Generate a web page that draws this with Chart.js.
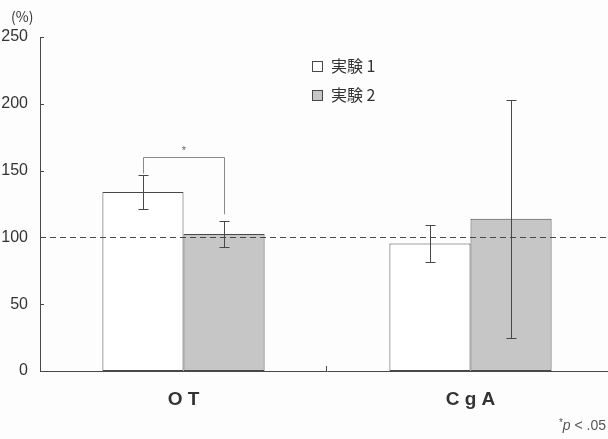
<!DOCTYPE html>
<html>
<head>
<meta charset="utf-8">
<script src="https://cdn.jsdelivr.net/npm/chart.js@4.4.0/dist/chart.umd.min.js"></script>
<style>
  html, body { margin: 0; padding: 0; background: #fdfdfd; overflow: hidden; }
  #wrap { width: 614px; height: 439px; }
</style>
</head>
<body>
<div id="wrap"><canvas id="chartCanvas" width="614" height="439"></canvas></div>
<script>
// データ
const categories = ['O T', 'C g A'];
const seriesNames = ['実験1', '実験2'];
const exp1 = [134, 95.5];
const exp2 = [102.5, 114];
const exp1Err = [13, 13.7];
const exp2Err = [9.5, 89];
const yTicks = [0, 50, 100, 150, 200, 250];
const baseline = 100;
// 有意差ブラケット (OT: 実験1 vs 実験2)
const sigTop = 160;

const ink = '#484848';
const textInk = '#333333';

const extras = {
    id: 'extras',
    afterDatasetsDraw(chart) {
        const ctx = chart.ctx;
        const x = chart.scales.x;
        const y = chart.scales.y;
        const area = chart.chartArea;
        ctx.save();
        ctx.strokeStyle = ink;
        ctx.lineWidth = 1;

        // エラーバー
        const errs = [exp1Err, exp2Err];
        chart.data.datasets.forEach((ds, di) => {
            const meta = chart.getDatasetMeta(di);
            meta.data.forEach((bar, i) => {
                const v = ds.data[i];
                const e = errs[di][i];
                const cx = Math.round(bar.x) + 0.5;
                const yt = Math.round(y.getPixelForValue(v + e)) + 0.5;
                const yb = Math.round(y.getPixelForValue(v - e)) + 0.5;
                ctx.beginPath();
                ctx.moveTo(cx, yt); ctx.lineTo(cx, yb);
                ctx.moveTo(cx - 5, yt); ctx.lineTo(cx + 5, yt);
                ctx.moveTo(cx - 5, yb); ctx.lineTo(cx + 5, yb);
                ctx.stroke();
            });
        });

        // 基準線 100%
        const by = Math.round(y.getPixelForValue(baseline)) + 0.5;
        ctx.setLineDash([6, 4]);
        ctx.beginPath();
        ctx.moveTo(area.left, by);
        ctx.lineTo(area.right, by);
        ctx.stroke();
        ctx.setLineDash([]);

        // 目盛り (内向き)
        ctx.beginPath();
        yTicks.slice(1).forEach(t => {
            const ty = Math.round(y.getPixelForValue(t)) + 0.5;
            ctx.moveTo(area.left, ty);
            ctx.lineTo(area.left + 4, ty);
        });
        const midX = Math.round((x.getPixelForValue(0) + x.getPixelForValue(1)) / 2) - 0.5;
        ctx.moveTo(midX, area.bottom);
        ctx.lineTo(midX, area.bottom - 5);
        ctx.stroke();

        // 有意差ブラケット
        const b1 = chart.getDatasetMeta(0).data[0];
        const b2 = chart.getDatasetMeta(1).data[0];
        const lx = Math.round(b1.x) + 0.5;
        const rx = Math.round(b2.x) + 0.5;
        const sy = Math.round(y.getPixelForValue(sigTop)) + 0.5;
        ctx.strokeStyle = '#8a8a8a';
        ctx.beginPath();
        ctx.moveTo(lx, y.getPixelForValue(exp1[0] + exp1Err[0]) - 1);
        ctx.lineTo(lx, sy);
        ctx.lineTo(rx, sy);
        ctx.lineTo(rx, y.getPixelForValue(exp2[0] + exp2Err[0]) - 7);
        ctx.stroke();
        ctx.fillStyle = '#666';
        ctx.font = '11px "Liberation Sans", sans-serif';
        ctx.textAlign = 'center';
        ctx.textBaseline = 'middle';
        ctx.fillText('*', (lx + rx) / 2, sy - 7);

        // 凡例
        ctx.textAlign = 'left';
        ctx.textBaseline = 'middle';
        ctx.font = '16px "Noto Sans CJK JP", sans-serif';
        chart.data.datasets.forEach((ds, i) => {
            const ly = 66 + i * 29;
            ctx.fillStyle = ds.backgroundColor;
            ctx.fillRect(312, ly - 5, 11, 11);
            ctx.strokeStyle = ink;
            ctx.strokeRect(312.5, ly - 4.5, 10, 10);
            ctx.fillStyle = textInk;
            ctx.fillText(ds.label.replace(/(\d)$/, ' $1'), 331, ly);
        });

        // 単位
        ctx.font = '14px "Noto Sans CJK JP", sans-serif';
        ctx.fillText('(%)', 11, 17);

        // 注記
        ctx.textAlign = 'right';
        ctx.textBaseline = 'alphabetic';
        ctx.font = '14px "Liberation Sans", sans-serif';
        ctx.fillStyle = '#555';
        ctx.fillText('< .05', 606, 430);
        const w1 = ctx.measureText('< .05').width;
        ctx.font = 'italic 14px "Liberation Sans", sans-serif';
        ctx.fillText('p ', 606 - w1, 430);
        const w2 = ctx.measureText('p ').width;
        ctx.font = '10px "Liberation Sans", sans-serif';
        ctx.fillText('*', 606 - w1 - w2, 426);
        ctx.restore();
    }
};

new Chart(document.getElementById('chartCanvas'), {
    type: 'bar',
    data: {
        labels: categories,
        datasets: [{
            label: seriesNames[0],
            data: exp1,
            backgroundColor: '#ffffff',
            borderColor: ink,
            borderWidth: 1,
            borderSkipped: false
        }, {
            label: seriesNames[1],
            data: exp2,
            backgroundColor: '#c6c6c6',
            borderColor: ink,
            borderWidth: 1,
            borderSkipped: false
        }]
    },
    options: {
        responsive: false,
        animation: false,
        devicePixelRatio: 1,
        layout: { padding: { top: 37, left: 0, right: 0, bottom: 0 } },
        categoryPercentage: 0.565,
        barPercentage: 1,
        plugins: {
            legend: { display: false },
            tooltip: { enabled: false }
        },
        scales: {
            x: {
                grid: { display: false, drawTicks: false },
                border: { display: true, color: ink, width: 1 },
                ticks: {
                    color: textInk,
                    padding: 17,
                    font: { family: '"Liberation Sans", sans-serif', size: 19, weight: 'bold' }
                },
                afterFit(scale) { scale.height = 68; }
            },
            y: {
                min: 0,
                max: 250,
                grid: { display: false, drawTicks: false },
                border: { display: true, color: ink, width: 1 },
                ticks: {
                    stepSize: 50,
                    color: textInk,
                    padding: 12,
                    font: { family: '"Liberation Sans", sans-serif', size: 16 }
                },
                afterFit(scale) { scale.width = 40; }
            }
        }
    },
    plugins: [extras]
});
</script>
</body>
</html>
